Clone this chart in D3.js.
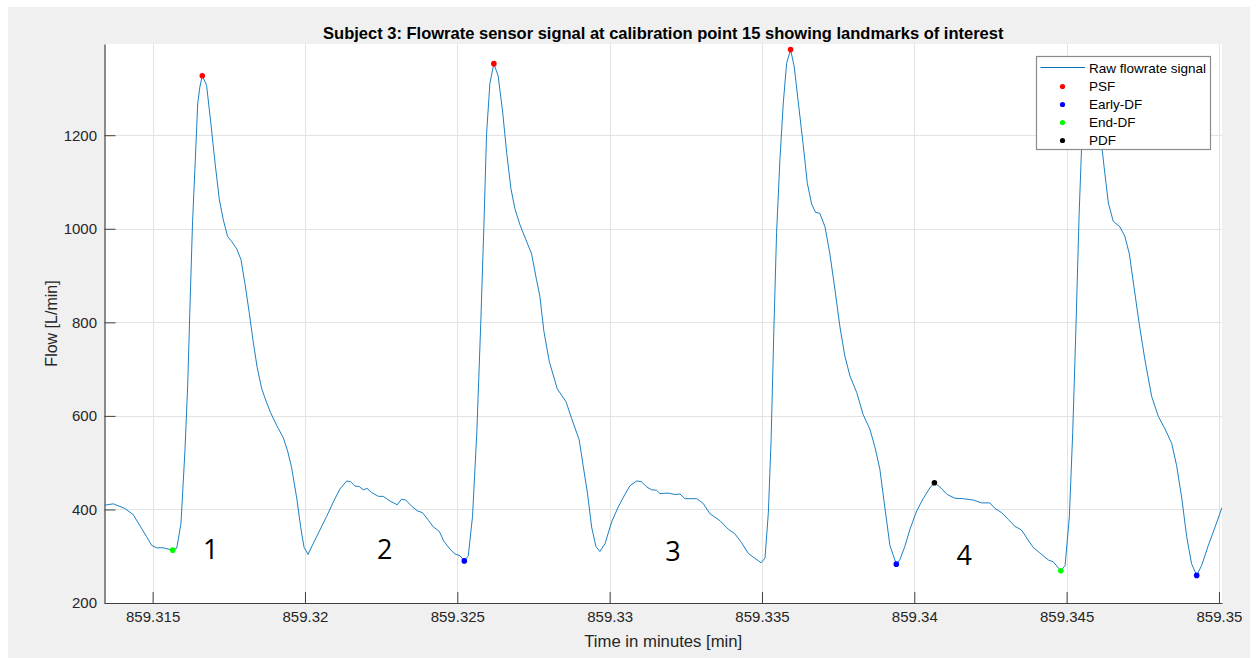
<!DOCTYPE html>
<html>
<head>
<meta charset="utf-8">
<script src="https://cdn.jsdelivr.net/npm/d3@7"></script>
<style>
  html, body { margin: 0; padding: 0; background: #ffffff; }
  svg { display: block; font-family: "Liberation Sans", Arial, sans-serif; }
</style>
</head>
<body>
<svg id="chart" width="1260" height="658"></svg>
<script>
// ---------------- DATA ----------------
const titleText = "Subject 3: Flowrate sensor signal at calibration point 15 showing landmarks of interest";
const xLabel = "Time in minutes [min]";
const yLabel = "Flow [L/min]";

const xTicks = [859.315, 859.32, 859.325, 859.33, 859.335, 859.34, 859.345, 859.35];
const yTicks = [200, 400, 600, 800, 1000, 1200];
const xDomain = [859.31342, 859.35010];
const yDomain = [200, 1395];

// raw flowrate signal: time (min)
const time = [
  859.31342, 859.31371, 859.31409, 859.31436, 859.31480, 859.31497, 859.31513, 859.31535,
  859.31566, 859.31579, 859.31593, 859.31606, 859.31615, 859.31622, 859.31631, 859.31639,
  859.31648, 859.31655, 859.31663, 859.31677, 859.31691, 859.31705, 859.31719, 859.31732,
  859.31746, 859.31759, 859.31776, 859.31790, 859.31803, 859.31817, 859.31830, 859.31843,
  859.31858, 859.31871, 859.31887, 859.31907, 859.31929, 859.31943, 859.31956, 859.31973,
  859.31986, 859.31997, 859.32010, 859.32027, 859.32049, 859.32071, 859.32093, 859.32115,
  859.32137, 859.32150, 859.32164, 859.32178, 859.32191, 859.32204, 859.32219, 859.32241,
  859.32257, 859.32279, 859.32303, 859.32317, 859.32331, 859.32350, 859.32369, 859.32386,
  859.32405, 859.32421, 859.32441, 859.32456, 859.32476, 859.32492, 859.32509, 859.32523,
  859.32536, 859.32550, 859.32564, 859.32577, 859.32587, 859.32596, 859.32607, 859.32620,
  859.32634, 859.32649, 859.32662, 859.32676, 859.32689, 859.32706, 859.32725, 859.32744,
  859.32760, 859.32771, 859.32784, 859.32802, 859.32828, 859.32857, 859.32875, 859.32900,
  859.32913, 859.32927, 859.32941, 859.32955, 859.32968, 859.32985, 859.33007, 859.33028,
  859.33050, 859.33067, 859.33089, 859.33105, 859.33122, 859.33138, 859.33154, 859.33165,
  859.33192, 859.33214, 859.33231, 859.33247, 859.33286, 859.33307, 859.33329, 859.33362,
  859.33389, 859.33411, 859.33433, 859.33455, 859.33480, 859.33497, 859.33510, 859.33521,
  859.33530, 859.33539, 859.33548, 859.33559, 859.33570, 859.33581, 859.33594, 859.33606,
  859.33619, 859.33634, 859.33649, 859.33663, 859.33676, 859.33690, 859.33707, 859.33723,
  859.33740, 859.33756, 859.33772, 859.33789, 859.33811, 859.33832, 859.33854, 859.33871,
  859.33887, 859.33904, 859.33920, 859.33941, 859.33953, 859.33969, 859.33986, 859.34008,
  859.34029, 859.34051, 859.34066, 859.34084, 859.34108, 859.34133, 859.34161, 859.34194,
  859.34221, 859.34248, 859.34265, 859.34287, 859.34308, 859.34330, 859.34352, 859.34369,
  859.34390, 859.34412, 859.34440, 859.34456, 859.34481, 859.34495, 859.34509, 859.34520,
  859.34531, 859.34541, 859.34552, 859.34563, 859.34575, 859.34586, 859.34600, 859.34615,
  859.34623, 859.34637, 859.34653, 859.34675, 859.34691, 859.34706, 859.34721, 859.34738,
  859.34757, 859.34779, 859.34801, 859.34823, 859.34845, 859.34861, 859.34878, 859.34894,
  859.34910, 859.34927, 859.34943, 859.34965, 859.34987, 859.35010
];
// raw flowrate signal: flow (L/min)
const flow = [
  409, 412, 402, 389, 342, 323, 318, 318,
  313, 317, 370, 525, 665, 821, 1015, 1132,
  1268, 1303, 1327, 1307, 1226, 1140, 1062, 1019,
  984, 973, 957, 934, 883, 821, 759, 704,
  658, 634, 607, 580, 553, 525, 490, 424,
  362, 319, 304, 327, 356, 385, 416, 444,
  461, 459, 450, 449, 442, 445, 436, 428,
  428, 418, 410, 422, 420, 407, 397, 393,
  377, 363, 353, 332, 315, 305, 301, 290,
  301, 385, 564, 798, 1000, 1202, 1311, 1353,
  1327, 1249, 1163, 1086, 1043, 1008, 977, 946,
  891, 856, 782, 716, 658, 630, 595, 549,
  494, 436, 362, 321, 310, 327, 374, 405,
  432, 451, 461, 459, 448, 442, 441, 434,
  435, 432, 433, 423, 423, 413, 391, 376,
  358, 348, 329, 306, 294, 286, 296, 393,
  549, 782, 992, 1148, 1269, 1354, 1383, 1346,
  1272, 1187, 1097, 1053, 1035, 1033, 1004, 946,
  868, 790, 728, 685, 650, 603, 572, 533,
  486, 401, 323, 283, 293, 321, 358, 397,
  423, 446, 457, 448, 432, 424, 423, 420,
  414, 414, 402, 393, 379, 364, 356, 339,
  319, 307, 292, 288, 269, 280, 385, 564,
  798, 1031, 1225, 1320, 1350, 1322, 1255, 1179,
  1132, 1055, 1016, 1004, 984, 946, 876, 798,
  720, 642, 599, 572, 541, 494, 424, 342,
  284, 259, 280, 323, 362, 404
];

// landmarks [time, flow]
const psf = [[859.31663, 1327], [859.32620, 1353], [859.33594, 1383], [859.34575, 1350]];
const earlyDF = [[859.32523, 290], [859.33941, 283], [859.34927, 259]];
const endDF = [[859.31566, 313], [859.34481, 269]];
const pdf = [[859.34066, 457]];

// cycle annotations [label, time, flow]
const annotations = [["1", 859.31691, 295], ["2", 859.32262, 295], ["3", 859.33208, 289], ["4", 859.34164, 281]];

const legendNames = ["Raw flowrate signal", "PSF", "Early-DF", "End-DF", "PDF"];
const legendColors = ["#0072BD", "#ff0000", "#0000ff", "#00ff00", "#000000"];

// ---------------- DRAW ----------------
const W = 1260, H = 658;
const svg = d3.select("#chart");
const plot = {left: 104.5, right: 1222, top: 44, bottom: 603};

// figure background (grey panel with thin white margin)
svg.append("rect").attr("x", 0).attr("y", 0).attr("width", W).attr("height", H).attr("fill", "#ffffff");
svg.append("rect").attr("x", 8).attr("y", 7).attr("width", 1242).attr("height", H - 7).attr("fill", "#f0f0f0");
svg.append("rect").attr("x", plot.left).attr("y", plot.top)
  .attr("width", plot.right - plot.left).attr("height", plot.bottom - plot.top).attr("fill", "#ffffff");

const x = d3.scaleLinear().domain(xDomain).range([plot.left, plot.right]);
const y = d3.scaleLinear().domain(yDomain).range([plot.bottom, plot.top]);

// grid
const grid = svg.append("g").attr("stroke", "#e3e3e3").attr("stroke-width", 1);
grid.selectAll("line.vx").data(xTicks).join("line")
  .attr("x1", d => Math.round(x(d)) + 0.5).attr("x2", d => Math.round(x(d)) + 0.5)
  .attr("y1", plot.top).attr("y2", plot.bottom);
grid.selectAll("line.hy").data(yTicks).join("line")
  .attr("y1", d => Math.round(y(d)) + 0.5).attr("y2", d => Math.round(y(d)) + 0.5)
  .attr("x1", plot.left).attr("x2", plot.right);

// axes
const fmtX = d3.format(".3~f");
const xAxis = d3.axisBottom(x).tickValues(xTicks).tickFormat(fmtX).tickSizeInner(-11).tickSizeOuter(0).tickPadding(8);
const yAxis = d3.axisLeft(y).tickValues(yTicks).tickFormat(d3.format("d")).tickSizeInner(-11).tickSizeOuter(0).tickPadding(7.5);

const gx = svg.append("g").attr("transform", `translate(0,${plot.bottom})`).call(xAxis);
const gy = svg.append("g").attr("transform", `translate(${plot.left},0)`).call(yAxis);
[gx, gy].forEach(g => {
  g.select(".domain").attr("stroke", "#404040").attr("stroke-width", 1.2);
  g.selectAll(".tick line").attr("stroke", "#404040").attr("stroke-width", 1);
  g.selectAll(".tick text").attr("fill", "#262626").style("font-size", "15px")
    .style("font-family", "'Liberation Sans', Arial, sans-serif");
});

// clip
svg.append("clipPath").attr("id", "clip").append("rect")
  .attr("x", plot.left).attr("y", plot.top).attr("width", plot.right - plot.left).attr("height", plot.bottom - plot.top);

// signal line
const series = time.map((t, i) => [t, flow[i]]);
svg.append("path").datum(series)
  .attr("clip-path", "url(#clip)")
  .attr("fill", "none").attr("stroke", "#0072BD").attr("stroke-width", 0.9)
  .attr("stroke-linejoin", "round")
  .attr("d", d3.line().x(d => x(d[0])).y(d => y(d[1])));

// landmark markers
const markerSets = [[psf, "#ff0000"], [earlyDF, "#0000ff"], [endDF, "#00ff00"], [pdf, "#000000"]];
markerSets.forEach(([pts, col]) => {
  svg.append("g").selectAll("circle").data(pts).join("circle")
    .attr("cx", d => x(d[0])).attr("cy", d => y(d[1])).attr("r", 2.8).attr("fill", col);
});

// cycle annotations
svg.append("g").selectAll("text").data(annotations).join("text")
  .attr("x", d => x(d[1])).attr("y", d => y(d[2]))
  .attr("text-anchor", "middle")
  .style("font-family", "'Open Sans', 'Noto Sans', sans-serif").style("font-size", "27px")
  .attr("fill", "#000").text(d => d[0]);

// title & labels
svg.append("text").attr("x", (plot.left + plot.right) / 2).attr("y", 38.5)
  .attr("text-anchor", "middle").style("font-size", "16.5px").style("font-weight", "bold")
  .attr("fill", "#000").text(titleText);
svg.append("text").attr("x", (plot.left + plot.right) / 2).attr("y", 647)
  .attr("text-anchor", "middle").style("font-size", "16.7px").attr("fill", "#262626").text(xLabel);
svg.append("text").attr("transform", `translate(57,${(plot.top + plot.bottom) / 2}) rotate(-90)`)
  .attr("text-anchor", "middle").style("font-size", "16px").attr("fill", "#262626").text(yLabel);

// legend
const lg = svg.append("g").attr("transform", "translate(1036.5,56.5)");
lg.append("rect").attr("width", 174).attr("height", 93).attr("fill", "#ffffff")
  .attr("stroke", "#8c8c8c").attr("stroke-width", 1.2);
legendNames.forEach((name, i) => {
  const cy = 11 + i * 18;
  if (i === 0) {
    lg.append("line").attr("x1", 4).attr("x2", 48.5).attr("y1", cy).attr("y2", cy)
      .attr("stroke", legendColors[i]).attr("stroke-width", 1);
  } else {
    lg.append("circle").attr("cx", 26).attr("cy", cy + 1).attr("r", 2.6).attr("fill", legendColors[i]);
  }
  lg.append("text").attr("x", 52.5).attr("y", cy + 5).style("font-size", "13.5px")
    .attr("fill", "#000").text(name);
});
</script>
</body>
</html>
